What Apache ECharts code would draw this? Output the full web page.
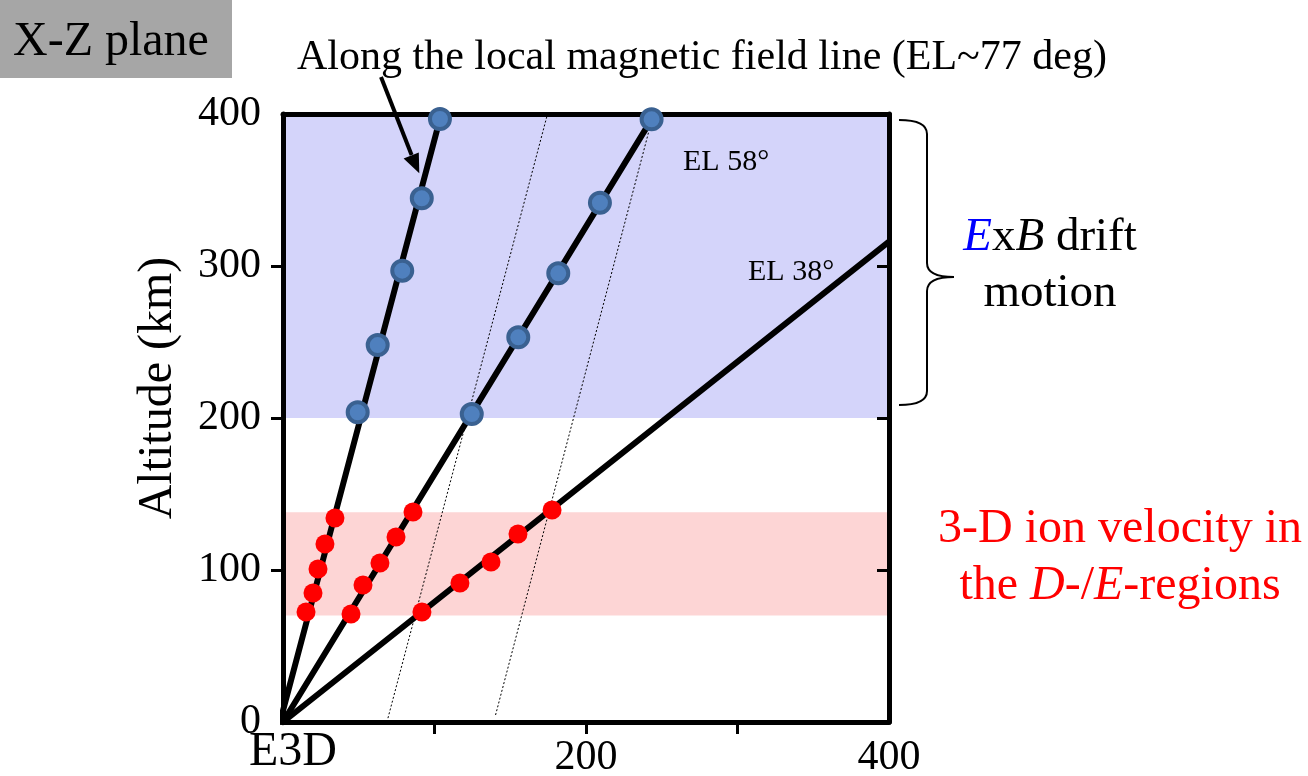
<!DOCTYPE html>
<html>
<head>
<meta charset="utf-8">
<script src="https://cdn.jsdelivr.net/npm/echarts@6/dist/echarts.min.js"></script>
<style>
  html, body { margin: 0; padding: 0; background: #ffffff; }
  #chart { width: 1308px; height: 776px; }
</style>
</head>
<body>
<div id="chart"></div>
<script>
// ---- data (km) ----
const xTicks = [100, 200, 300];
const xLabels = [200, 400];
const yTicks = [100, 200, 300];
const yLabels = [0, 100, 200, 300, 400];

const lineEL77 = [[-2, 0], [103.6, 396.7]];
const lineEL58 = [[0, 0], [243.3, 396.5]];
const lineEL38 = [[0, 0], [400, 316]];

const blueEL77 = [[103.6, 396.7], [91.6, 344.5], [78.7, 296.9], [62.5, 248.0], [49.3, 203.8]];
const redEL77  = [[34.3, 134.2], [27.7, 117.1], [23.1, 100.7], [19.8, 84.9], [15.2, 72.4]];
const blueEL58 = [[243.3, 396.5], [209.2, 341.6], [181.7, 295.2], [155.3, 253.1], [124.6, 202.6]];
const redEL58  = [[85.8, 138.2], [74.6, 121.7], [64.0, 104.6], [52.8, 90.1], [44.9, 71.1]];
const redEL38  = [[177.6, 139.5], [155.1, 123.7], [137.3, 105.3], [116.8, 91.4], [91.7, 72.4]];

const fieldLineA = [[68.6, 0], [174.6, 400]];
const fieldLineB = [[140.3, 4.6], [243.6, 396.7]];

const bandExB = [200, 400];
const bandDE = [70, 138];

// ---- chart ----
const FONT = "'Liberation Serif', 'Times New Roman', serif";
const chart = echarts.init(document.getElementById('chart'), null, { renderer: 'canvas' });

function solidLine(data) {
  return {
    type: 'line', data: data, symbol: 'none', clip: false, z: 3, silent: true,
    lineStyle: { color: '#000000', width: 6, cap: 'round' }
  };
}
function dotted(data) {
  return {
    type: 'line', data: data, symbol: 'none', z: 2.5, silent: true,
    lineStyle: { color: '#000000', width: 1, type: [2, 2] }
  };
}
function blueDots(data) {
  return {
    type: 'scatter', data: data, symbol: 'circle', symbolSize: 20, z: 5, clip: false,
    itemStyle: { color: '#4f80be', borderColor: '#3a6191', borderWidth: 4, opacity: 1 }
  };
}
function redDots(data) {
  return {
    type: 'scatter', data: data, symbol: 'circle', symbolSize: 19, z: 5, clip: false,
    itemStyle: { color: '#ff0000', opacity: 1 }
  };
}
const braceStyle = { stroke: '#000000', lineWidth: 2, fill: null };
const axisLineStyle = { show: true, onZero: false, lineStyle: { color: '#000000', width: 5 } };

const option = {
  backgroundColor: '#ffffff',
  animation: false,
  grid: { left: 283, right: 419, top: 114, bottom: 54, containLabel: false, outerBoundsMode: 'none' },
  xAxis: [
    {
      type: 'value', min: 0, max: 400, interval: 100, position: 'bottom', z: 4,
      axisLine: axisLineStyle,
      axisTick: { show: true, inside: false, length: 12, customValues: xTicks, lineStyle: { color: '#000000', width: 3 } },
      axisLabel: { show: true, customValues: xLabels, margin: 15, color: '#000000', fontFamily: FONT, fontSize: 42 },
      splitLine: { show: false }
    },
    {
      type: 'value', min: 0, max: 400, interval: 100, position: 'top', z: 4,
      axisLine: axisLineStyle,
      axisTick: { show: false }, axisLabel: { show: false }, splitLine: { show: false }
    }
  ],
  yAxis: [
    {
      type: 'value', min: 0, max: 400, interval: 100, position: 'left', z: 4,
      axisLine: axisLineStyle,
      axisTick: { show: true, inside: false, length: 12, customValues: yTicks, lineStyle: { color: '#000000', width: 3 } },
      axisLabel: { show: true, customValues: yLabels, margin: 22, color: '#000000', fontFamily: FONT, fontSize: 42 },
      splitLine: { show: false }
    },
    {
      type: 'value', min: 0, max: 400, interval: 100, position: 'right', z: 4,
      axisLine: axisLineStyle,
      axisTick: { show: true, inside: true, length: 12, customValues: yTicks, lineStyle: { color: '#000000', width: 3 } },
      axisLabel: { show: false }, splitLine: { show: false }
    }
  ],
  series: [
    {
      type: 'line', data: [], z: 1, silent: true,
      markArea: {
        silent: true,
        data: [
          [{ yAxis: bandExB[0], itemStyle: { color: '#d4d4fa' } }, { yAxis: bandExB[1] }],
          [{ yAxis: bandDE[0], itemStyle: { color: '#fdd5d5' } }, { yAxis: bandDE[1] }]
        ]
      }
    },
    dotted(fieldLineA),
    dotted(fieldLineB),
    solidLine(lineEL77),
    solidLine(lineEL58),
    solidLine(lineEL38),
    blueDots(blueEL77),
    blueDots(blueEL58),
    redDots(redEL77),
    redDots(redEL58),
    redDots(redEL38)
  ],
  graphic: [
    { type: 'rect', left: 0, top: 0, shape: { width: 232, height: 78 }, style: { fill: '#a6a6a6' }, z: 10 },
    { type: 'text', x: 13, y: 42, z: 11, style: { text: 'X-Z plane', font: "48px " + FONT, fill: '#000000', verticalAlign: 'middle', align: 'left' } },
    { type: 'text', x: 297, y: 58, z: 11, style: { text: 'Along the local magnetic field line (EL~77 deg)', font: "42px " + FONT, fill: '#000000', verticalAlign: 'middle', align: 'left' } },
    { type: 'text', x: 158, y: 388, rotation: Math.PI / 2, z: 11, style: { text: 'Altitude (km)', font: "48px " + FONT, fill: '#000000', verticalAlign: 'middle', align: 'center' } },
    { type: 'line', z: 11, shape: { x1: 381, y1: 77, x2: 411.6, y2: 155 }, style: { stroke: '#000000', lineWidth: 4 } },
    { type: 'polygon', z: 11, shape: { points: [[419.3, 173.3], [403.6, 158.5], [418.8, 152.5]] }, style: { fill: '#000000' } },
    { type: 'text', x: 683, y: 162, z: 11, style: { text: 'EL 58°', font: "30px " + FONT, fill: '#000000', verticalAlign: 'middle', align: 'left' } },
    { type: 'text', x: 748, y: 272, z: 11, style: { text: 'EL 38°', font: "30px " + FONT, fill: '#000000', verticalAlign: 'middle', align: 'left' } },
    { type: 'text', x: 293, y: 752, z: 11, style: { text: 'E3D', font: "48px " + FONT, fill: '#000000', verticalAlign: 'middle', align: 'center' } },
    { type: 'bezierCurve', z: 11, shape: { x1: 899, y1: 120, cpx1: 927, cpy1: 120, x2: 927, y2: 134 }, style: braceStyle },
    { type: 'line', z: 11, shape: { x1: 927, y1: 134, x2: 927, y2: 263 }, style: braceStyle },
    { type: 'bezierCurve', z: 11, shape: { x1: 927, y1: 263, cpx1: 927, cpy1: 277, x2: 954, y2: 277 }, style: braceStyle },
    { type: 'bezierCurve', z: 11, shape: { x1: 954, y1: 277, cpx1: 927, cpy1: 277, x2: 927, y2: 291 }, style: braceStyle },
    { type: 'line', z: 11, shape: { x1: 927, y1: 291, x2: 927, y2: 391 }, style: braceStyle },
    { type: 'bezierCurve', z: 11, shape: { x1: 927, y1: 391, cpx1: 927, cpy1: 405, x2: 899, y2: 405 }, style: braceStyle },
    {
      type: 'text', x: 1050, y: 238, z: 11,
      style: {
        text: '{eb|E}{n|x}{ib|B}{n| drift}', align: 'center', verticalAlign: 'middle',
        rich: {
          eb: { font: "italic 47px " + FONT, fill: '#0000ff' },
          ib: { font: "italic 47px " + FONT, fill: '#000000' },
          n: { font: "47px " + FONT, fill: '#000000' }
        }
      }
    },
    { type: 'text', x: 1050, y: 294, z: 11, style: { text: 'motion', font: "47px " + FONT, fill: '#000000', verticalAlign: 'middle', align: 'center' } },
    { type: 'text', x: 1120, y: 529, z: 11, style: { text: '3-D ion velocity in', font: "48px " + FONT, fill: '#ff0000', verticalAlign: 'middle', align: 'center' } },
    {
      type: 'text', x: 1120, y: 586, z: 11,
      style: {
        text: '{n|the }{i|D}{n|-/}{i|E}{n|-regions}', align: 'center', verticalAlign: 'middle',
        rich: {
          n: { font: "48px " + FONT, fill: '#ff0000' },
          i: { font: "italic 48px " + FONT, fill: '#ff0000' }
        }
      }
    }
  ]
};
chart.setOption(option);
</script>
</body>
</html>
